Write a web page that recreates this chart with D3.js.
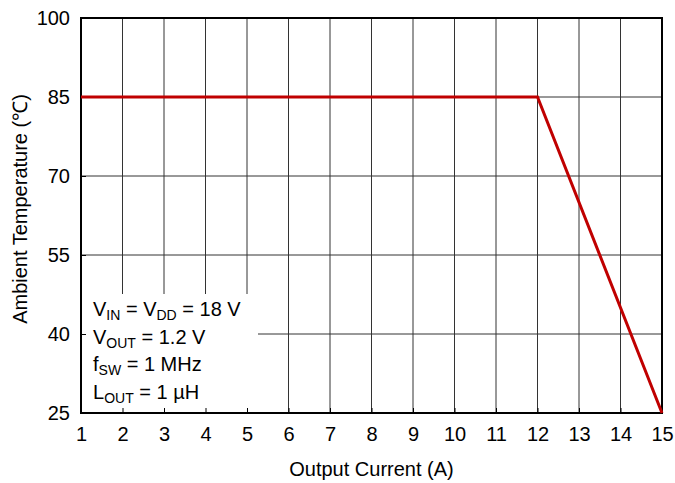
<!DOCTYPE html>
<html>
<head>
<meta charset="utf-8">
<script src="https://cdn.jsdelivr.net/npm/d3@7"></script>
<style>
  body { margin: 0; background: #fff; }
  text { font-family: Arial, "Liberation Sans", sans-serif; fill: #000; }
</style>
</head>
<body>
<svg id="chart" width="675" height="483"></svg>
<script>
// data
const currentA = [1, 12, 15]
const tempC = [85, 85, 25]
const xTicks = [1, 2, 3, 4, 5, 6, 7, 8, 9, 10, 11, 12, 13, 14, 15]
const yTicks = [25, 40, 55, 70, 85, 100]
const legendLines = [
  [['V', ''], ['IN', 'sub'], [' = V', ''], ['DD', 'sub'], [' = 18 V', '']],
  [['V', ''], ['OUT', 'sub'], [' = 1.2 V', '']],
  [['f', ''], ['SW', 'sub'], [' = 1 MHz', '']],
  [['L', ''], ['OUT', 'sub'], [' = 1 µH', '']]
]

const margin = {left: 81, top: 18, right: 13, bottom: 70}
const W = 675, H = 483
const FS = 20
const svg = d3.select('#chart')

const x = d3.scaleLinear().domain([1, 15]).range([margin.left, W - margin.right])
const y = d3.scaleLinear().domain([25, 100]).range([H - margin.bottom, margin.top])

// grid
svg.append('g').selectAll('line').data(xTicks.slice(1, -1)).enter().append('line')
  .attr('x1', d => x(d)).attr('x2', d => x(d))
  .attr('y1', y(100)).attr('y2', y(25))
  .attr('stroke', '#333').attr('stroke-width', 1)
svg.append('g').selectAll('line').data(yTicks.slice(1, -1)).enter().append('line')
  .attr('y1', d => y(d)).attr('y2', d => y(d))
  .attr('x1', x(1)).attr('x2', x(15))
  .attr('stroke', '#333').attr('stroke-width', 1)

// legend box hides the grid behind it
const lx = x(1) + 12, ly0 = 316, lstep = 27.7
svg.append('rect')
  .attr('x', x(1)).attr('y', 294)
  .attr('width', 177).attr('height', y(25) - 294)
  .attr('fill', '#fff')

// inward ticks
svg.append('g').attr('transform', `translate(0,${y(25)})`)
  .call(d3.axisBottom(x).tickValues(xTicks).tickSize(-5).tickPadding(14).tickFormat(d3.format('d')))
  .call(g => g.select('.domain').remove())
  .call(g => g.selectAll('line').attr('stroke', '#000'))
  .call(g => g.selectAll('text').attr('font-size', FS).attr('font-family', 'Arial, Liberation Sans, sans-serif'))
svg.append('g').attr('transform', `translate(${x(1)},0)`)
  .call(d3.axisLeft(y).tickValues(yTicks).tickSize(-5).tickPadding(11))
  .call(g => g.select('.domain').remove())
  .call(g => g.selectAll('line').attr('stroke', '#000'))
  .call(g => g.selectAll('text').attr('font-size', FS).attr('font-family', 'Arial, Liberation Sans, sans-serif'))

// frame
svg.append('rect')
  .attr('x', x(1)).attr('y', y(100))
  .attr('width', x(15) - x(1)).attr('height', y(25) - y(100))
  .attr('fill', 'none').attr('stroke', '#000').attr('stroke-width', 2)

// legend text
legendLines.forEach((parts, i) => {
  const t = svg.append('text').attr('x', lx).attr('y', ly0 + i * lstep).attr('font-size', FS)
  let low = false
  parts.forEach(p => {
    const s = t.append('tspan').text(p[0])
    if (p[1] === 'sub') { s.attr('font-size', 14).attr('dy', 4); low = true }
    else if (low) { s.attr('dy', -4); low = false }
  })
})

// derating curve
const pts = currentA.map((c, i) => [c, tempC[i]])
svg.append('path').datum(pts)
  .attr('d', d3.line().x(d => x(d[0])).y(d => y(d[1])))
  .attr('fill', 'none').attr('stroke', '#c00000').attr('stroke-width', 3)

// axis titles
svg.append('text').attr('x', (x(1) + x(15)) / 2).attr('y', 476)
  .attr('text-anchor', 'middle').attr('font-size', FS).text('Output Current (A)')
svg.append('text').attr('transform', `translate(27,209) rotate(-90)`)
  .attr('text-anchor', 'middle').attr('font-size', FS).text('Ambient Temperature (℃)')
</script>
</body>
</html>
